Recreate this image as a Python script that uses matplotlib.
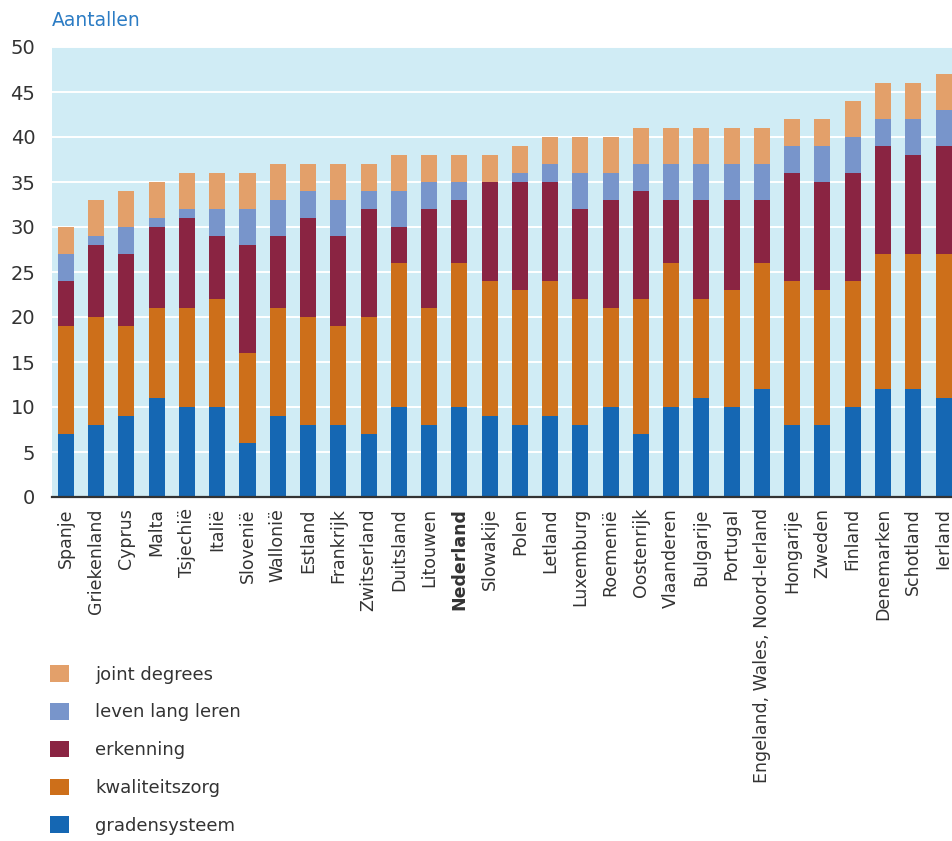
import numpy as np
import matplotlib
matplotlib.use("Agg")
import matplotlib.pyplot as plt
from matplotlib.patches import Patch

plt.rcParams["font.family"] = ["DejaVu Sans"]

landen = ["Spanje", "Griekenland", "Cyprus", "Malta", "Tsjechië", "Italië",
          "Slovenië", "Wallonië", "Estland", "Frankrijk", "Zwitserland",
          "Duitsland", "Litouwen", "Nederland", "Slowakije", "Polen", "Letland",
          "Luxemburg", "Roemenië", "Oostenrijk", "Vlaanderen", "Bulgarije",
          "Portugal", "Engeland, Wales, Noord-Ierland", "Hongarije", "Zweden",
          "Finland", "Denemarken", "Schotland", "Ierland"]

gradensysteem   = [7, 8, 9, 11, 10, 10, 6, 9, 8, 8, 7, 10, 8, 10, 9, 8, 9, 8, 10, 7,
                   10, 11, 10, 12, 8, 8, 10, 12, 12, 11]
kwaliteitszorg  = [12, 12, 10, 10, 11, 12, 10, 12, 12, 11, 13, 16, 13, 16, 15, 15, 15,
                   14, 11, 15, 16, 11, 13, 14, 16, 15, 14, 15, 15, 16]
erkenning       = [5, 8, 8, 9, 10, 7, 12, 8, 11, 10, 12, 4, 11, 7, 11, 12, 11, 10, 12,
                   12, 7, 11, 10, 7, 12, 12, 12, 12, 11, 12]
leven_lang      = [3, 1, 3, 1, 1, 3, 4, 4, 3, 4, 2, 4, 3, 2, 0, 1, 2, 4, 3, 3, 4, 4,
                   4, 4, 3, 4, 4, 3, 4, 4]
joint_degrees   = [3, 4, 4, 4, 4, 4, 4, 4, 3, 4, 3, 4, 3, 3, 3, 3, 3, 4, 4, 4, 4, 4,
                   4, 4, 3, 3, 4, 4, 4, 4]

reeksen = [
    ("gradensysteem", gradensysteem, "#1567b3"),
    ("kwaliteitszorg", kwaliteitszorg, "#cd6f1a"),
    ("erkenning", erkenning, "#8a2442"),
    ("leven lang leren", leven_lang, "#7895cb"),
    ("joint degrees", joint_degrees, "#e3a06a"),
]

fig = plt.figure(figsize=(9.52, 8.41), dpi=100)
ax = fig.add_axes([52 / 952, 344 / 841, 900 / 952, 450 / 841])
ax.set_facecolor("#d0ecf5")

x = np.arange(len(landen))
onder = np.zeros(len(landen))
handles = []
for naam, waarden, kleur in reeksen:
    ax.bar(x, waarden, bottom=onder, width=0.53, color=kleur, zorder=3)
    onder += np.array(waarden)
    handles.append(Patch(facecolor=kleur, label=naam))

ax.set_xlim(-0.46, len(landen) - 0.72)
ax.set_ylim(0, 50)
ax.set_yticks(range(0, 51, 5))
ax.grid(axis="y", color="white", lw=1.4, zorder=1)
ax.tick_params(axis="y", length=0, pad=12, labelsize=14, labelcolor="#333333")
ax.tick_params(axis="x", length=0, pad=8, labelsize=12.5, labelcolor="#333333")
ax.set_xticks(x)
ax.set_xticklabels(landen, rotation=90)
for lbl in ax.get_xticklabels():
    if lbl.get_text() == "Nederland":
        lbl.set_fontweight("bold")

for kant in ("top", "right", "left"):
    ax.spines[kant].set_visible(False)
ax.spines["bottom"].set_color("#333333")
ax.spines["bottom"].set_linewidth(1.6)
ax.spines["bottom"].set_zorder(4)

fig.text(52 / 952, 1 - 26 / 841, "Aantallen", color="#2c7cc4", fontsize=13.5,
         ha="left", va="baseline")

fig.legend(handles[::-1], [h.get_label() for h in handles[::-1]],
           loc="upper left", bbox_to_anchor=(50 / 952, 1 - 665 / 841),
           frameon=False, fontsize=13, handlelength=1.05, handleheight=1.05,
           handletextpad=1.45, labelspacing=1.07, borderpad=0, borderaxespad=0,
           labelcolor="#333333")

fig.savefig("out.png", dpi=100)
